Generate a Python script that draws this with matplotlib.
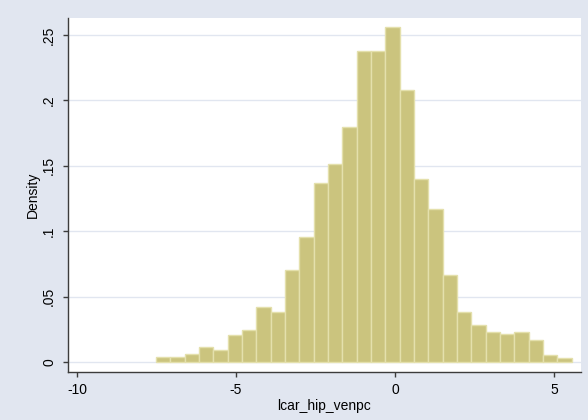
import numpy as np
import matplotlib.pyplot as plt

plt.rcParams['font.family'] = ['Liberation Sans', 'DejaVu Sans']

# --- histogram data ---
BIN_START = -7.52
BIN_WIDTH = 0.451
density = [0.0041, 0.0040, 0.0063, 0.0112, 0.0092, 0.0204, 0.0245, 0.0420,
           0.0380, 0.0700, 0.0953, 0.1366, 0.1510, 0.1800, 0.2375, 0.2375,
           0.2560, 0.2077, 0.1400, 0.1170, 0.0663, 0.0382, 0.0283, 0.0232,
           0.0214, 0.0232, 0.0168, 0.0051, 0.0033]

x_ticks = [-10, -5, 0, 5]
x_tick_labels = ['-10', '-5', '0', '5']
y_ticks = [0, 0.05, 0.1, 0.15, 0.2, 0.25]
y_tick_labels = ['0', '.05', '.1', '.15', '.2', '.25']

BG = '#E1E6F0'
BAR_FILL = '#CBC47E'
BAR_EDGE = '#E4E0AC'
AXIS_COL = '#3C3C3C'

fig = plt.figure(figsize=(5.88, 4.2), dpi=100, facecolor=BG)
ax = fig.add_axes([67.5 / 588, 48 / 420, (581 - 67.5) / 588, (372 - 18) / 420])
ax.set_facecolor('white')

lefts = BIN_START + BIN_WIDTH * np.arange(len(density))
ax.bar(lefts, density, width=BIN_WIDTH, align='edge', color=BAR_FILL,
       edgecolor=BAR_EDGE, linewidth=1.0, zorder=3)

ax.set_xlim(-10.30, 5.85)
ax.set_ylim(-0.00765, 0.263)

ax.set_xticks(x_ticks)
ax.set_xticklabels(x_tick_labels)
ax.set_yticks(y_ticks)
ax.set_yticklabels(y_tick_labels, rotation=90, va='center')

ax.grid(axis='y', color=BG, linewidth=1.0, zorder=0)
ax.set_axisbelow(True)

for side in ['top', 'right']:
    ax.spines[side].set_visible(False)
for side in ['left', 'bottom']:
    ax.spines[side].set_color(AXIS_COL)
    ax.spines[side].set_linewidth(1.0)

ax.tick_params(axis='both', direction='out', length=3.6, width=1.0,
               color=AXIS_COL, labelsize=10, labelcolor='black')
ax.tick_params(axis='y', pad=4.5)
ax.tick_params(axis='x', pad=4)

ax.set_xlabel('lcar_hip_venpc', fontsize=10, labelpad=2)
ax.set_ylabel('Density', fontsize=10, labelpad=1.5)

fig.savefig('out.png', dpi=100, facecolor=BG)
